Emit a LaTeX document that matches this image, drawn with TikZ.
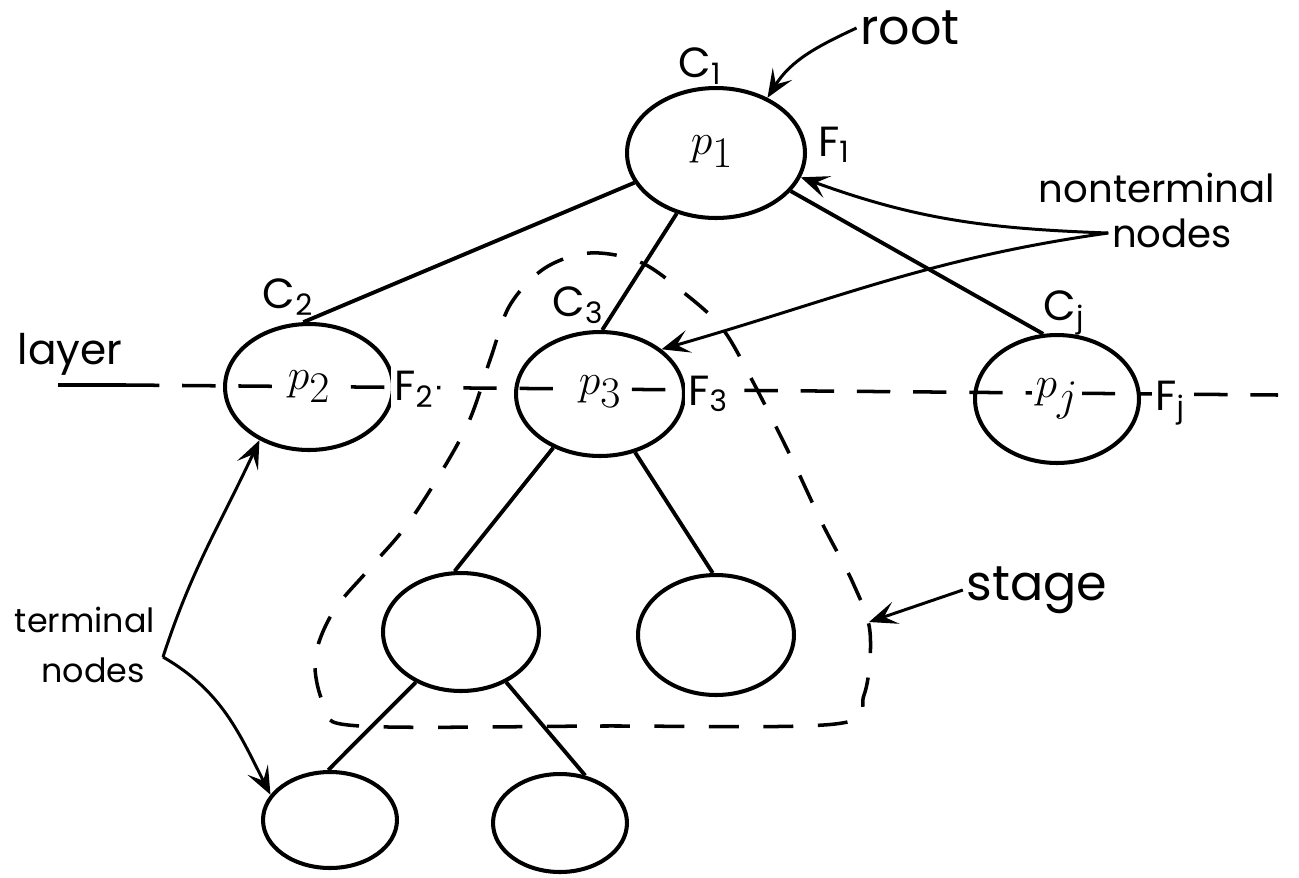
\documentclass[tikz,border=0pt]{standalone}
\usepackage{fontspec}
\setmainfont{Poppins}
\usetikzlibrary{shapes.geometric,arrows.meta}
\begin{document}
\begin{tikzpicture}[x=0.02cm,y=-0.02cm,
  nd/.style={ellipse, draw, line width=2.3pt, inner sep=0pt},
  edge/.style={line width=2.2pt},
  thinarrow/.style={line width=1.7pt, -{Stealth[length=16pt,width=13pt,inset=7pt]}},
  lbl/.style={inner sep=2pt, font=\fontsize{24}{28}\selectfont},
  plbl/.style={fill=white, inner sep=2pt, font=\fontsize{38}{42}\selectfont},
  txt/.style={inner sep=2pt},
  layerline/.style={line width=2pt, dash pattern=on 19pt off 13pt},
  stageline/.style={line width=2pt, dash pattern=on 17pt off 14pt}
]
\useasboundingbox (0,0) rectangle (1299,877);

% layer line
\coordinate (L0) at (58,385);
\coordinate (L1) at (126,385);
\coordinate (L2) at (1278,395);
\draw[line width=2pt] (L0) -- (L1);
\draw[layerline] (L1) -- (L2);

% stage outline
\draw[stageline] plot[smooth cycle, tension=0.55] coordinates {
  (360,726) (600,726) (835,724) (864,695) (870,632) (853,583) (822,523)
  (790,455) (752,380) (722,328) (683,292) (640,262) (590,253) (545,268)
  (510,305) (490,360) (465,430) (412,518) (370,568) (333,612) (315,660) (326,708)};
\coordinate (sp) at (869,622);

% nodes
\node[nd, minimum width=3.56cm, minimum height=2.6cm]  (p1) at (716,153) {};
\node[nd, minimum width=3.36cm, minimum height=2.52cm] (p2) at (309,387) {};
\node[nd, minimum width=3.36cm, minimum height=2.48cm] (p3) at (600,394) {};
\node[nd, minimum width=3.28cm, minimum height=2.56cm] (pj) at (1057,399) {};
\node[nd, minimum width=3.12cm, minimum height=2.36cm] (t1) at (461,632) {};
\node[nd, minimum width=3.12cm, minimum height=2.4cm]  (t2) at (716,635) {};
\node[nd, minimum width=2.68cm, minimum height=1.92cm] (b1) at (330,820) {};
\node[nd, minimum width=2.68cm, minimum height=1.96cm] (b2) at (560,823) {};

% node texts
\node[plbl] (p1l) at (712,152) {$p_1$};
\node[plbl] (p2l) at (309,387) {$p_2$};
\node[plbl] (p3l) at (600,392) {$p_3$};
\node[plbl] (pjl) at (1057,399) {$p_j$};

% C and F labels
\node[lbl] (c1) at (700,66) {C\textsubscript{1}};
\node[lbl] (f1) at (834,145) {F\textsubscript{1}};
\node[lbl] (c2) at (288,297) {C\textsubscript{2}};
\node[lbl, fill=white] (f2) at (414,389) {F\textsubscript{2}};
\node[lbl] (c3) at (578,305) {C\textsubscript{3}};
\node[lbl, fill=white] (f3) at (708,394) {F\textsubscript{3}};
\node[lbl] (cj) at (1064,313) {C\textsubscript{j}};
\node[lbl, fill=white] (fj) at (1170,403) {F\textsubscript{j}};

% edges
\draw[edge] (p1.200) -- (p2.95);
\draw[edge] (p1.237) -- (p3.88);
\draw[edge] (p1.333) -- (pj.102);
\draw[edge] (p3.229) -- (t1.96);
\draw[edge] (p3.301) -- (t2.93);
\draw[edge] (t1.228) -- (b1.92);
\draw[edge] (t1.312) -- (b2.62);

% texts
\node[txt, font=\fontsize{24}{28}\selectfont] (layer) at (70,354) {layer};
\node[txt, font=\fontsize{28}{32}\selectfont] (root) at (910,28) {root};
\node[txt, font=\fontsize{22}{26}\selectfont] (nt) at (1157,188) {nonterminal};
\node[txt, font=\fontsize{22}{26}\selectfont] (ntn) at (1172,233) {nodes};
\node[txt, font=\fontsize{28}{32}\selectfont] (stage) at (1037,590) {stage};
\node[txt, font=\fontsize{19}{23}\selectfont] (term) at (85,620) {terminal};
\node[txt, font=\fontsize{19}{23}\selectfont] (termn) at (93,670) {nodes};
\coordinate (tv) at (163,657);

% arrows
\draw[thinarrow] (root.west) to[out=205, in=58] (p1.47);
\draw[thinarrow] (ntn.west) to[out=178, in=-20] (p1.344);
\draw[thinarrow] (ntn.west) to[out=188, in=16] (p3.36);
\draw[thinarrow] (stage.west) -- (sp);
\draw[thinarrow] (tv) to[out=72, in=245] (p2.227);
\draw[thinarrow] (tv) to[out=-30, in=117] (b1.157);
\end{tikzpicture}
\end{document}
